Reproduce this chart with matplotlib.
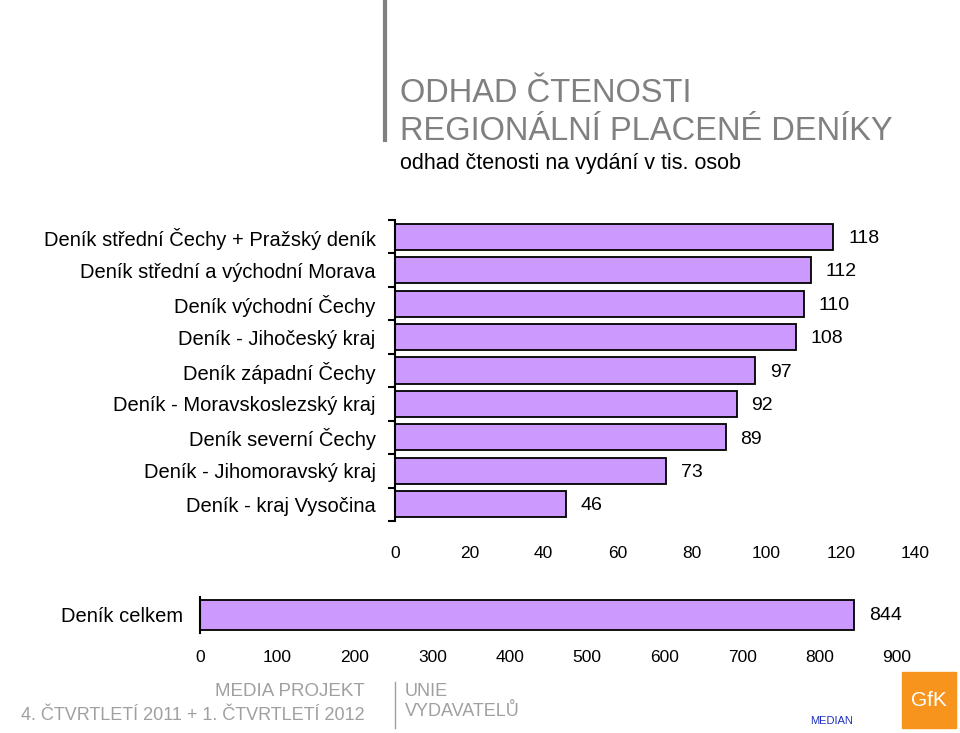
import matplotlib
matplotlib.use("Agg")
import matplotlib.pyplot as plt
from matplotlib.patches import Rectangle

categories = ["Deník střední Čechy + Pražský deník", "Deník střední a východní Morava",
              "Deník východní Čechy", "Deník - Jihočeský kraj", "Deník západní Čechy",
              "Deník - Moravskoslezský kraj", "Deník severní Čechy",
              "Deník - Jihomoravský kraj", "Deník - kraj Vysočina"]
values = [118, 112, 110, 108, 97, 92, 89, 73, 46]
total_label = ["Deník celkem"]
total_value = [844]

W, H = 960, 733
fig = plt.figure(figsize=(9.6, 7.33), dpi=100)
plt.rcParams["font.family"] = "Liberation Sans"
bar_c = "#CC99FF"

def box(l, t, r, b):
    return [l / W, 1 - b / H, (r - l) / W, (b - t) / H]

# title block
fig.add_artist(plt.Line2D([385 / W, 385 / W], [1, 1 - 140 / H], color="#808080", lw=3))
fig.text(400 / W, 1 - 93 / H, "ODHAD ČTENOSTI", fontsize=23.5, color="#808080", va="center")
fig.text(400 / W, 1 - 131 / H, "REGIONÁLNÍ PLACENÉ DENÍKY", fontsize=23.5, color="#808080", va="center")
fig.text(400 / W, 1 - 164 / H, "odhad čtenosti na vydání v tis. osob", fontsize=15.5, color="black", va="center")

# main chart
ax = fig.add_axes(box(395, 220, 915, 521))
y = range(len(values))
ax.barh(y, values, height=0.78, color=bar_c, edgecolor="black", lw=1.3)
ax.set_ylim(len(values) - 0.5, -0.5)
ax.set_xlim(0, 140)
ax.set_yticks(list(y))
ax.set_yticklabels(categories, fontsize=14.5)
ax.set_xticks(range(0, 141, 20))
ax.tick_params(axis="x", length=0, labelsize=12.5, pad=18)
ax.set_yticks([i - 0.5 for i in range(len(values) + 1)], minor=True)
ax.tick_params(axis="y", which="minor", length=5, width=1.5)
ax.tick_params(axis="y", which="major", length=0, pad=14)
for s in ["top", "right", "bottom"]:
    ax.spines[s].set_visible(False)
ax.spines["left"].set_linewidth(1.5)
for i, v in enumerate(values):
    ax.text(v + 4, i + 0.05, str(v), fontsize=14, va="center", ha="left")

# total chart
ax2 = fig.add_axes(box(200, 597, 897, 633))
ax2.barh([0], total_value, height=0.85, color=bar_c, edgecolor="black", lw=1.3)
ax2.set_ylim(0.5, -0.5)
ax2.set_xlim(0, 900)
ax2.set_yticks([0])
ax2.set_yticklabels(total_label, fontsize=14.5)
ax2.set_xticks(range(0, 901, 100))
ax2.tick_params(axis="x", length=0, labelsize=12.5, pad=12)
ax2.tick_params(axis="y", length=0, pad=12)
for s in ["top", "right", "bottom"]:
    ax2.spines[s].set_visible(False)
ax2.spines["left"].set_linewidth(1.5)
ax2.text(total_value[0] + 20, 0, str(total_value[0]), fontsize=14, va="center")

# footer
fig.text(365 / W, 1 - 692 / H, "MEDIA PROJEKT", fontsize=13.5, color="#a0a0a0", ha="right", va="center")
fig.text(365 / W, 1 - 716 / H, "4. ČTVRTLETÍ 2011 + 1. ČTVRTLETÍ 2012", fontsize=13, color="#a0a0a0", ha="right", va="center")
fig.add_artist(plt.Line2D([395 / W, 395 / W], [1 - 682 / H, 1 - 728 / H], color="#a0a0a0", lw=1))
fig.text(405 / W, 1 - 692 / H, "UNIE", fontsize=13, color="#a0a0a0", va="center")
fig.text(405 / W, 1 - 712 / H, "VYDAVATELŮ", fontsize=13, color="#a0a0a0", va="center")
fig.text(832 / W, 1 - 721 / H, "MEDIAN", fontsize=8, color="#2030c0", ha="center", va="center")
fig.add_artist(Rectangle((902 / W, 1 - 728 / H), 54 / W, 56 / H, color="#F7941D"))
fig.text(929 / W, 1 - 700 / H, "GfK", fontsize=15, color="white", ha="center", va="center")

fig.savefig("out.png", dpi=100)
